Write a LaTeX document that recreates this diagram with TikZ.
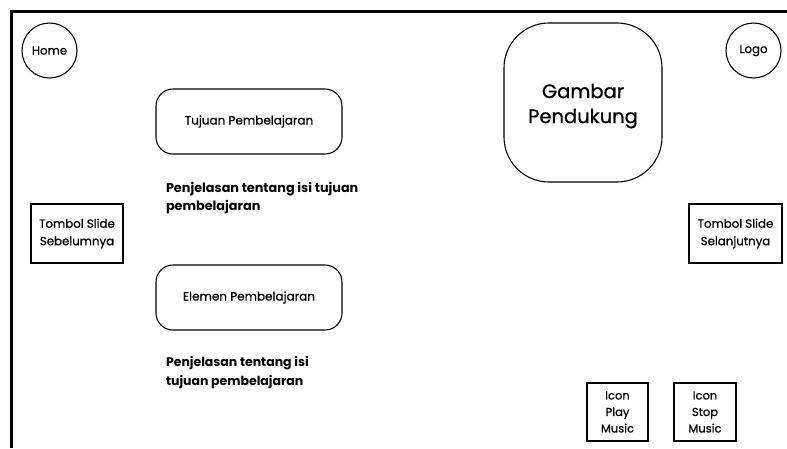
\documentclass[tikz,border=0pt]{standalone}
\usepackage{fontspec}
\setmainfont{Poppins}
\newfontfamily\medfont{Poppins}[FakeBold=0.8]
\begin{document}
\begin{tikzpicture}[x=1pt,y=-1pt,
  every node/.style={inner sep=0pt, outer sep=0pt},
  frameline/.style={line width=3pt},
  circbtn/.style={draw, circle, line width=1.1pt, minimum size=55pt,
    font=\medfont\fontsize{11.8}{14}\selectfont},
  roundbox/.style={draw, line width=1.1pt, rounded corners=17pt, align=center,
    minimum width=186pt, minimum height=65pt, font=\medfont\fontsize{12}{14}\selectfont},
  bigbox/.style={draw, line width=1.1pt, rounded corners=45pt,
    minimum width=158pt, minimum height=159pt},
  bigtext/.style={align=center, font=\medfont\fontsize{19.5}{25}\selectfont},
  sqbtn/.style={draw, line width=1.1pt, align=center,
    font=\medfont\fontsize{11.8}{17.5}\selectfont},
  note/.style={anchor=north west, align=left,
    font=\fontsize{12.8}{18}\selectfont\bfseries}
]
\useasboundingbox (0,0) rectangle (787,448);

% outer frame (top and left edges)
\draw[frameline] (11,448) -- (11,11) -- (787,11);

% corner buttons
\node[circbtn] (home) at (49.5,50.5) {Home};
\node[circbtn] (logo) at (753.5,50.5) {Logo};

% supporting picture
\node[bigbox] (gambar) at (583,102.5) {};
\node[bigtext] (gambarlbl) at (583,106) {Gambar\\Pendukung};

% learning objectives
\node[roundbox] (tujuan) at (249,121.5) {Tujuan Pembelajaran};
\node[note] (isi1) at (166,182) {Penjelasan tentang isi tujuan\\pembelajaran};

% learning elements
\node[roundbox] (elemen) at (249,297.5) {Elemen Pembelajaran};
\node[note, font=\fontsize{12.5}{19}\selectfont\bfseries] (isi2) at (166,356)
  {Penjelasan tentang isi\\tujuan pembelajaran};

% navigation buttons
\node[sqbtn, minimum width=92pt, minimum height=59pt] (prev) at (77,233.5)
  {Tombol Slide\\Sebelumnya};
\node[sqbtn, minimum width=93pt, minimum height=59pt] (next) at (735.5,233.5)
  {Tombol Slide\\Selanjutnya};

% music controls
\node[sqbtn, minimum width=61pt, minimum height=58pt,
  font=\medfont\fontsize{11.5}{16.5}\selectfont] (play) at (617.5,412)
  {Icon\\Play\\Music};
\node[sqbtn, minimum width=62pt, minimum height=58pt,
  font=\medfont\fontsize{11.5}{16.5}\selectfont] (stop) at (705,412)
  {Icon\\Stop\\Music};
\end{tikzpicture}
\end{document}
